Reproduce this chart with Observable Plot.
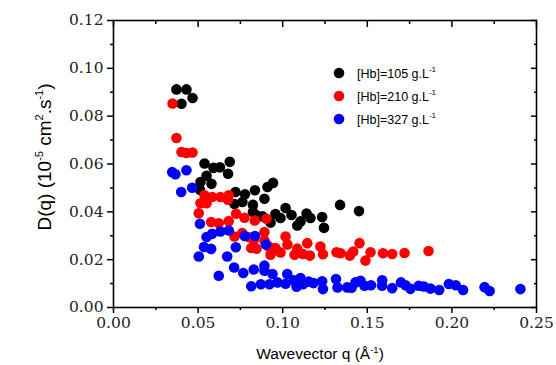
<!DOCTYPE html>
<html>
<head>
<meta charset="utf-8">
<script src="https://cdn.jsdelivr.net/npm/d3@7"></script>
<script src="https://cdn.jsdelivr.net/npm/@observablehq/plot@0.6"></script>
<style>
  html, body { margin: 0; padding: 0; background: #fff; }
  #chart { width: 556px; height: 365px; }
</style>
</head>
<body>
<div id="chart"></div>
<script>
// ---- Data ----
const seriesNames = ["[Hb]=105 g.L", "[Hb]=210 g.L", "[Hb]=327 g.L"];
const seriesColors = ["#000000", "#ff0000", "#0000ff"];

const qBlack = [0.0372,0.0431,0.0467,0.0402,0.0538,0.0591,0.0629,0.0687,0.0677,0.0550,0.0514,0.0579,0.0511,
  0.0721,0.0777,0.0836,0.0910,0.0943,0.0892,0.0715,0.0762,0.0824,0.0824,0.0845,0.0881,0.0928,0.0957,0.0987,
  0.1017,0.1052,0.1086,0.1105,0.1141,0.1164,0.1233,0.1244,0.1339,0.1451];
const dBlack = [0.0912,0.0912,0.0876,0.0852,0.0602,0.0584,0.0586,0.0609,0.0559,0.0551,0.0525,0.0517,0.0492,
  0.0483,0.0473,0.0490,0.0504,0.0521,0.0455,0.0433,0.0441,0.0429,0.0399,0.0385,0.0381,0.0355,0.0391,0.0374,
  0.0416,0.0387,0.0343,0.0360,0.0393,0.0374,0.0378,0.0333,0.0429,0.0403];

const qRed = [0.0349,0.0372,0.0402,0.0431,0.0467,0.0538,0.0583,0.0632,0.0681,0.0514,0.0550,0.0676,0.0504,
  0.0577,0.0622,0.0681,0.0725,0.0774,0.0835,0.0904,0.0715,0.0761,0.0800,0.0829,0.0892,0.0892,0.0918,0.0814,
  0.0845,0.0928,0.0957,0.0987,0.1017,0.1028,0.1070,0.1086,0.1119,0.1145,0.1161,0.1223,0.1238,0.1318,0.1342,
  0.1397,0.1417,0.1454,0.1489,0.1519,0.1593,0.1647,0.1720,0.1862];
const dRed = [0.0853,0.0709,0.0650,0.0646,0.0648,0.0469,0.0462,0.0462,0.0469,0.0436,0.0436,0.0451,0.0394,
  0.0357,0.0352,0.0361,0.0392,0.0375,0.0364,0.0371,0.0297,0.0311,0.0294,0.0283,0.0315,0.0280,0.0255,0.0249,
  0.0246,0.0221,0.0249,0.0230,0.0297,0.0263,0.0221,0.0246,0.0224,0.0269,0.0217,0.0255,0.0223,0.0231,0.0227,
  0.0217,0.0234,0.0269,0.0196,0.0231,0.0227,0.0224,0.0228,0.0236];

const qBlue = [0.0347,0.0366,0.0431,0.0400,0.0465,0.0511,0.0550,0.0583,0.0632,0.0681,0.0535,0.0577,0.0504,
  0.0672,0.0723,0.0775,0.0836,0.0901,0.0622,0.0713,0.0767,0.0829,0.0892,0.0892,0.0814,0.0871,0.0922,0.0940,
  0.0969,0.1027,0.1017,0.1066,0.1082,0.1105,0.1120,0.1154,0.1182,0.1233,0.1238,0.1315,0.1324,0.1381,0.1407,
  0.1430,0.1460,0.1483,0.1522,0.1588,0.1587,0.1647,0.1699,0.1726,0.1755,0.1804,0.1834,0.1873,0.1925,0.1982,
  0.2023,0.2066,0.2193,0.2223,0.2405];
const dBlue = [0.0566,0.0557,0.0574,0.0483,0.0501,0.0350,0.0295,0.0308,0.0318,0.0322,0.0253,0.0245,0.0213,
  0.0213,0.0252,0.0299,0.0299,0.0263,0.0133,0.0167,0.0144,0.0159,0.0175,0.0154,0.0089,0.0097,0.0097,0.0140,
  0.0105,0.0140,0.0099,0.0114,0.0087,0.0123,0.0097,0.0108,0.0102,0.0110,0.0077,0.0119,0.0084,0.0084,0.0083,
  0.0105,0.0112,0.0091,0.0093,0.0114,0.0091,0.0081,0.0105,0.0093,0.0078,0.0091,0.0088,0.0079,0.0073,0.0098,
  0.0093,0.0073,0.0085,0.0069,0.0077];

const xTicks = [0, 0.05, 0.10, 0.15, 0.20, 0.25];
const xMinorTicks = [0.025, 0.075, 0.125, 0.175, 0.225];
const yTicks = [0, 0.02, 0.04, 0.06, 0.08, 0.10, 0.12];
const yMinorTicks = [0.01, 0.03, 0.05, 0.07, 0.09, 0.11];

// ---- Build table ----
const qs = [qBlack, qRed, qBlue];
const ds = [dBlack, dRed, dBlue];
const points = seriesNames.flatMap((name, k) => qs[k].map((q, i) => ({q, d: ds[k][i], series: name})));

const fmt = d3.format(".2f");
const tickFont = "DejaVu Serif";

const plot = Plot.plot({
  width: 556,
  height: 365,
  marginLeft: 113,
  marginRight: 20,
  marginTop: 20,
  marginBottom: 58,
  style: {background: "#fff", color: "#000", overflow: "visible"},
  x: {domain: [0, 0.25]},
  y: {domain: [0, 0.12]},
  color: {domain: seriesNames, range: seriesColors},
  marks: [
    Plot.axisX(xTicks, {tickSize: 6, tickPadding: 3, tickFormat: fmt, fontSize: 15.5, fontFamily: tickFont, label: null, strokeWidth: 1.5, fill: "#222"}),
    Plot.axisX(xMinorTicks, {tickSize: 3, text: null, label: null, strokeWidth: 1.5}),
    Plot.axisY(yTicks, {tickSize: 6, tickPadding: 4, tickFormat: fmt, fontSize: 15.5, fontFamily: tickFont, label: null, strokeWidth: 1.5, fill: "#222"}),
    Plot.axisY(yMinorTicks, {tickSize: 3, text: null, label: null, strokeWidth: 1.5}),
    Plot.axisX(xTicks, {anchor: "top", tickSize: -6, text: null, label: null, strokeWidth: 1.5}),
    Plot.axisX(xMinorTicks, {anchor: "top", tickSize: -3, text: null, label: null, strokeWidth: 1.5}),
    Plot.axisY(yTicks, {anchor: "right", tickSize: -6, text: null, label: null, strokeWidth: 1.5}),
    Plot.axisY(yMinorTicks, {anchor: "right", tickSize: -3, text: null, label: null, strokeWidth: 1.5}),
    Plot.dot(points, {x: "q", y: "d", fill: "series", r: 5.3, stroke: null}),
    Plot.frame({stroke: "#000", strokeWidth: 1.6})
  ]
});

document.getElementById("chart").appendChild(plot);

// ---- Axis titles and legend ----
const svg = d3.select(plot);
const sans = "Liberation Sans, Arial, sans-serif";

// Y title
const yt = svg.append("text")
  .attr("transform", "translate(51,157) rotate(-90)")
  .attr("text-anchor", "middle")
  .attr("font-family", sans)
  .attr("font-size", 19)
  .attr("fill", "#000");
yt.append("tspan").text("D(q) (10");
yt.append("tspan").attr("dy", -8).attr("font-size", 11).text("-5");
yt.append("tspan").attr("dy", 8).text(" cm");
yt.append("tspan").attr("dy", -8).attr("font-size", 11).text("2");
yt.append("tspan").attr("dy", 8).text(".s");
yt.append("tspan").attr("dy", -8).attr("font-size", 11).text("-1");
yt.append("tspan").attr("dy", 8).text(")");

// X title
const xt = svg.append("text")
  .attr("x", 320)
  .attr("y", 359)
  .attr("text-anchor", "middle")
  .attr("font-family", sans)
  .attr("font-size", 15.5)
  .attr("fill", "#000");
xt.append("tspan").text("Wavevector q (\u00C5");
xt.append("tspan").attr("dy", -6).attr("font-size", 9.5).text("-1");
xt.append("tspan").attr("dy", 6).text(")");

// Legend
const legendRows = [73, 96, 119];
seriesNames.forEach((name, i) => {
  svg.append("circle").attr("cx", 339).attr("cy", legendRows[i]).attr("r", 5.3).attr("fill", seriesColors[i]);
  const t = svg.append("text")
    .attr("x", 357)
    .attr("y", legendRows[i] + 4.5)
    .attr("text-anchor", "start")
    .attr("font-family", sans)
    .attr("font-size", 12.5)
    .attr("fill", "#000");
  t.append("tspan").text(name);
  t.append("tspan").attr("dy", -6).attr("font-size", 8).text("-1");
});
</script>
</body>
</html>
